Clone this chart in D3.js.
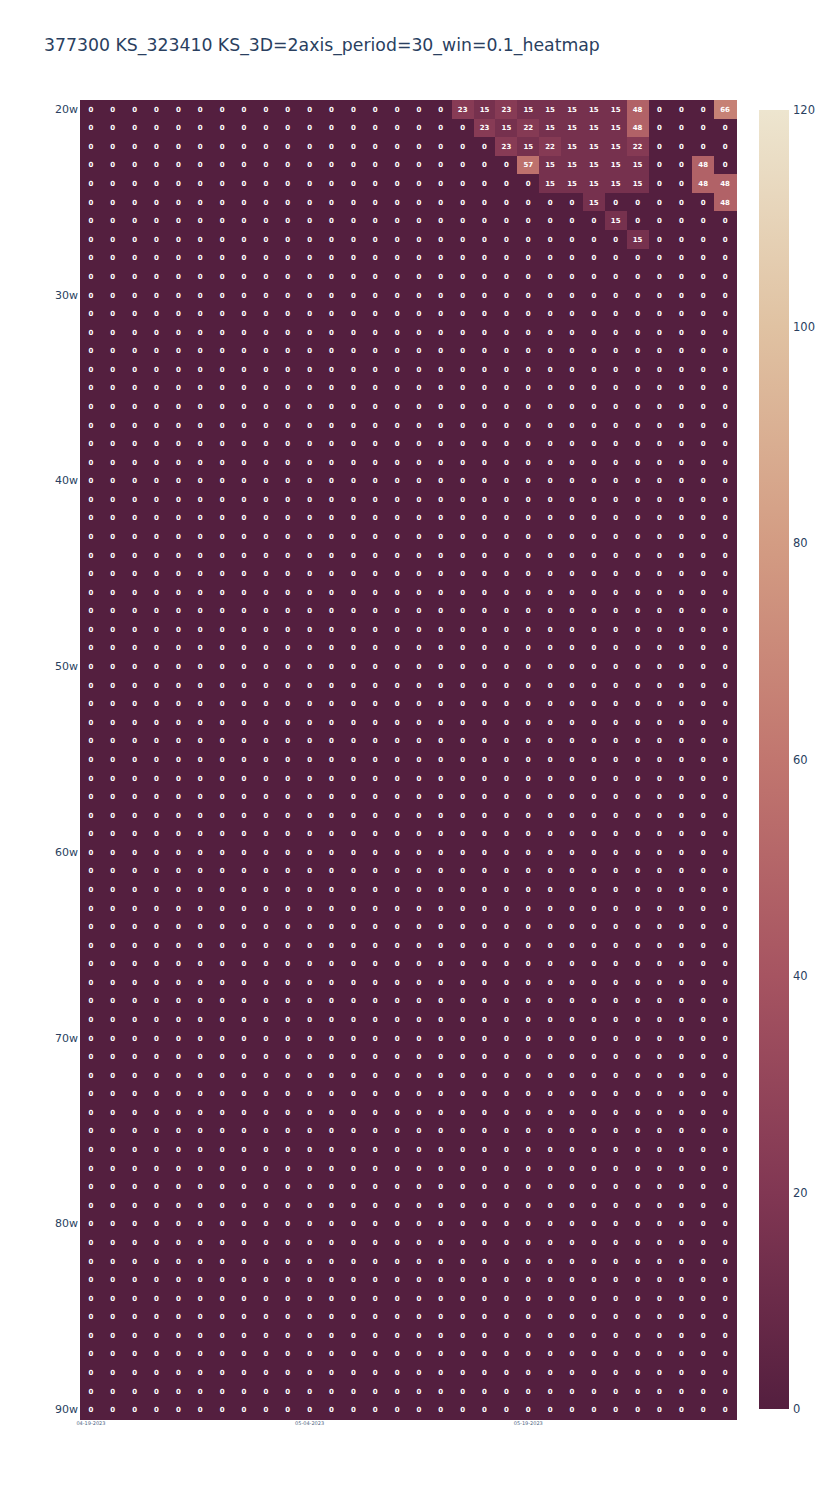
<!DOCTYPE html>
<html>
<head>
<meta charset="utf-8">
<script src="https://cdn.jsdelivr.net/npm/d3@7"></script>
<style>
  body { margin: 0; background: #fff; }
  svg { font-family: "DejaVu Sans", Verdana, sans-serif; }
</style>
</head>
<body>
<svg width="833" height="1500"></svg>
<script>
// rows: 20w .. 90w, columns: 30 periods
const rowLabels = d3.range(20, 91).map(d => d + "w");
const colCount = 30;
const xTickIdx = [0, 10, 20];
const xTickText = ["04-19-2023", "05-04-2023", "05-19-2023"];
const yTickRows = ["20w", "30w", "40w", "50w", "60w", "70w", "80w", "90w"];
const cbTicks = [0, 20, 40, 60, 80, 100, 120];

// non-zero cells in rows 20w..27w, columns 16..29 (everything else is 0)
const topRows = [
  [0, 23, 15, 23, 15, 15, 15, 15, 15, 48, 0, 0, 0, 66],
  [0, 0, 23, 15, 22, 15, 15, 15, 15, 48, 0, 0, 0, 0],
  [0, 0, 0, 23, 15, 22, 15, 15, 15, 22, 0, 0, 0, 0],
  [0, 0, 0, 0, 57, 15, 15, 15, 15, 15, 0, 0, 48, 0],
  [0, 0, 0, 0, 0, 15, 15, 15, 15, 15, 0, 0, 48, 48],
  [0, 0, 0, 0, 0, 0, 0, 15, 0, 0, 0, 0, 0, 48],
  [0, 0, 0, 0, 0, 0, 0, 0, 15, 0, 0, 0, 0, 0],
  [0, 0, 0, 0, 0, 0, 0, 0, 0, 15, 0, 0, 0, 0]
];
const topColStart = 16;

const brwnyl = ["rgb(84,31,63)", "rgb(129,55,83)", "rgb(166,84,97)", "rgb(193,118,111)",
                "rgb(211,156,131)", "rgb(224,194,162)", "rgb(237,229,207)"];

const cells = [];
rowLabels.forEach((r, i) => {
  for (let c = 0; c < colCount; c++) {
    let v = 0;
    if (i < topRows.length && c >= topColStart) v = topRows[i][c - topColStart];
    cells.push({ row: r, col: c, value: v });
  }
});

const svg = d3.select("svg");
const mLeft = 80, mRight = 736, mTop = 100, mBottom = 1419;

const x = d3.scaleBand().domain(d3.range(colCount)).range([mLeft, mRight]);
const y = d3.scaleBand().domain(rowLabels).range([mTop, mBottom]);
const color = d3.scaleLinear()
  .domain(brwnyl.map((d, i) => i * 120 / (brwnyl.length - 1)))
  .range(brwnyl);

// title
svg.append("text")
  .attr("x", 44).attr("y", 51)
  .attr("font-size", 17.3)
  .attr("fill", "#2a3f5f")
  .text("377300 KS_323410 KS_3D=2axis_period=30_win=0.1_heatmap");

// cells
svg.append("g")
  .attr("shape-rendering", "crispEdges")
  .selectAll("rect")
  .data(cells)
  .join("rect")
  .attr("x", d => x(d.col))
  .attr("y", d => y(d.row))
  .attr("width", x.bandwidth() + 1)
  .attr("height", y.bandwidth() + 1)
  .attr("fill", d => color(d.value));

svg.append("g").selectAll("text")
  .data(cells)
  .join("text")
  .attr("x", d => x(d.col) + x.bandwidth() / 2)
  .attr("y", d => y(d.row) + y.bandwidth() / 2)
  .attr("dy", "0.35em")
  .attr("text-anchor", "middle")
  .attr("font-size", 7)
  .attr("font-weight", "bold")
  .attr("fill", "#fff")
  .text(d => d.value);

// y axis
const yAxis = d3.axisLeft(y).tickValues(yTickRows).tickSize(0).tickPadding(2);
svg.append("g")
  .attr("transform", `translate(${mLeft},0)`)
  .call(yAxis)
  .call(g => g.select(".domain").remove())
  .call(g => g.selectAll("text")
    .attr("font-size", 11)
    .attr("font-family", "DejaVu Sans, Verdana, sans-serif")
    .attr("fill", "#2a3f5f"));

// x axis
const xAxis = d3.axisBottom(x).tickValues(xTickIdx)
  .tickFormat((d, i) => xTickText[i]).tickSize(0).tickPadding(2);
svg.append("g")
  .attr("transform", `translate(0,${mBottom})`)
  .call(xAxis)
  .call(g => g.select(".domain").remove())
  .call(g => g.selectAll("text")
    .attr("font-size", 5)
    .attr("font-family", "DejaVu Sans, Verdana, sans-serif")
    .attr("fill", "#506784"));

// colorbar
const cbX = 759, cbW = 30, cbTop = 110, cbBottom = 1409;
const defs = svg.append("defs");
const grad = defs.append("linearGradient")
  .attr("id", "cbgrad").attr("x1", 0).attr("y1", 1).attr("x2", 0).attr("y2", 0);
brwnyl.forEach((c, i) => {
  grad.append("stop").attr("offset", i / (brwnyl.length - 1)).attr("stop-color", c);
});
svg.append("rect")
  .attr("x", cbX).attr("y", cbTop)
  .attr("width", cbW).attr("height", cbBottom - cbTop)
  .attr("fill", "url(#cbgrad)");

const cbScale = d3.scaleLinear().domain([0, 120]).range([cbBottom, cbTop]);
svg.append("g")
  .attr("transform", `translate(${cbX + cbW},0)`)
  .call(d3.axisRight(cbScale).tickValues(cbTicks).tickSize(0).tickPadding(4))
  .call(g => g.select(".domain").remove())
  .call(g => g.selectAll("text")
    .attr("font-size", 11.5)
    .attr("font-family", "DejaVu Sans, Verdana, sans-serif")
    .attr("fill", "#2a3f5f"));
</script>
</body>
</html>
